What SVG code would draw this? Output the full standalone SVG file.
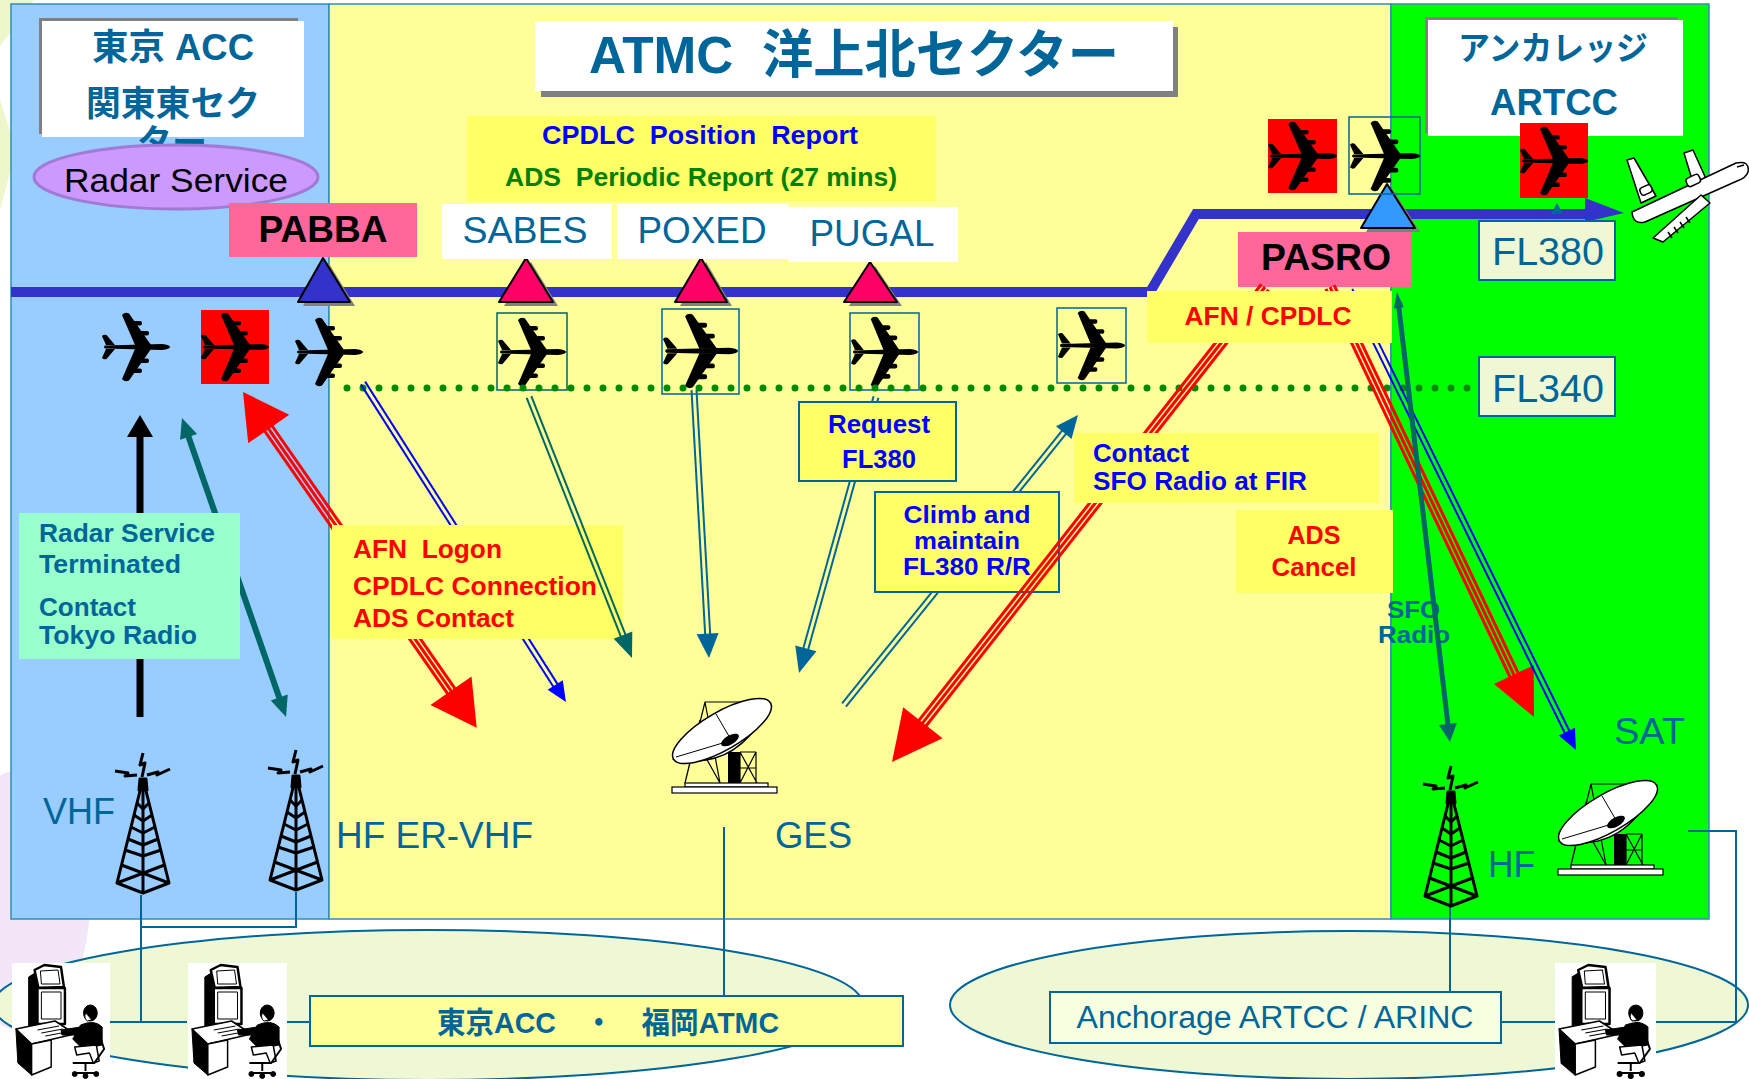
<svg xmlns="http://www.w3.org/2000/svg" width="1749" height="1079" viewBox="0 0 1749 1079">
<style>
  text { font-family: "Liberation Sans", "Noto Sans CJK JP", sans-serif; }
  .b { font-weight: bold; }
  .c { text-anchor: middle; }
  .pre { white-space: pre; }
  .teal { fill: #006699; }
  .red { fill: #FF0000; }
  .blu { fill: #0000FF; }
  .grn { fill: #008000; }
  .panel { stroke: #2F8FB8; stroke-width: 1.5; }
  .box { fill: #FFFF66; }
  .obox { fill: #FFFF66; stroke: #006699; stroke-width: 2; }
  .link { fill: none; stroke: #006699; stroke-width: 2; }
  .fl { fill: #EEF8D4; stroke: #006699; stroke-width: 2; }
  .wp { fill: #FFFFFF; }
  .pink { fill: #FF6699; }
  .tri { stroke: #000; stroke-width: 2; stroke-linejoin: round; }
  .shadow { fill: #808080; }
  .pbox { fill: none; stroke-width: 1.5; }
  .r3 line { stroke: #FF0000; stroke-width: 3; }
  .d2 line { stroke-width: 2; }
</style>
<defs>
  <!-- jet silhouette, nose pointing right -->
  <symbol id="plane" viewBox="0 0 68 70" preserveAspectRatio="none">
    <g fill="#000">
      <path d="M3,33.5 L60,32 Q68,33 68,35 Q68,37 60,38 L3,36.5 Q1,35 3,33.5 Z"/>
      <path d="M33,33 L20,3 Q23,-0.5 27,1.5 L49,33 Z"/>
      <path d="M33,37 L20,67 Q23,70.5 27,68.5 L49,37 Z"/>
      <rect x="30" y="9" width="10" height="4.5" rx="2"/>
      <rect x="37" y="19" width="10" height="4.5" rx="2"/>
      <rect x="30" y="56.5" width="10" height="4.5" rx="2"/>
      <rect x="37" y="46.5" width="10" height="4.5" rx="2"/>
      <path d="M4,33 L0,24 Q2,22 4.5,23 L13,33 Z"/>
      <path d="M4,37 L0,46 Q2,48 4.5,47 L13,37 Z"/>
    </g>
  </symbol>
  <!-- lattice radio tower -->
  <g id="tower" fill="none" stroke="#000" stroke-width="3" stroke-linejoin="round">
    <path d="M30,1 L27,13 L32,11 L29,25"/>
    <path d="M2,19 L15,21 L12,24 L24,23"/>
    <path d="M34,23 L45,20 L44,23 L57,17"/>
    <path d="M29,31 L4,131 L30,141 L56,131 L31,31"/>
    <path d="M30,31 L30,141"/>
    <path d="M24,51 L30,57 L36,51 M21,63 L30,69 L39,63 M18,75 L30,81 L42,75 M15,87 L30,93 L45,87 M12,98 L30,104 L48,98"/>
    <path d="M4,131 L51.5,113 M56,131 L8.5,113"/>
    <path d="M27,27 L33,27 L34,38 L26,38 Z" fill="#000"/>
  </g>
  <!-- satellite ground station dish -->
  <g id="dish">
    <g fill="none" stroke="#000" stroke-width="1.2">
      <path d="M45,12 L25,93 M45,12 L60,93 M45,12 L100,12 M36,50 L60,93 M40,30 L25,93"/>
      <path d="M80,62 L97,93 M96,62 L80,93 M80,62 L80,93 M96,62 L96,93 M80,62 L96,62 M80,78 L96,78"/>
    </g>
    <rect x="68" y="62" width="12" height="32" fill="#000"/>
    <rect x="25" y="93" width="83" height="4" fill="#fff" stroke="#000" stroke-width="1.2"/>
    <rect x="12" y="97" width="105" height="6" fill="#fff" stroke="#000" stroke-width="1.2"/>
    <path d="M14,69 Q78,82 110,14 Z" fill="#fff" stroke="#000" stroke-width="1.5"/>
    <ellipse cx="62" cy="41" rx="56" ry="19" transform="rotate(-30 62 41)" fill="#fff" stroke="#000" stroke-width="1.5"/>
    <path d="M16,67 L66,52 M56,24 L70,48" stroke="#000" stroke-width="1"/>
    <ellipse cx="70" cy="50" rx="10" ry="4.5" transform="rotate(-30 70 50)" fill="#000"/>
  </g>
  <!-- operator at a console -->
  <symbol id="op" viewBox="0 0 100 116" preserveAspectRatio="none">
    <rect width="100" height="116" fill="#fff"/>
    <g stroke="#000" stroke-linejoin="round">
      <path d="M17,14 L25,9 L25,90 L17,96 Z" fill="#000"/>
      <path d="M23,7 L33,2 L50,4 L53,24 L27,25 Z" fill="#fff" stroke-width="2.5"/>
      <path d="M29,8 L47,7 L49,21 L30,21 Z" fill="#fff" stroke-width="1"/>
      <rect x="26" y="25" width="28" height="36" fill="#fff" stroke-width="2.5"/>
      <rect x="30" y="29" width="20" height="27" fill="#fff" stroke-width="1"/>
      <path d="M4,66 L44,58 L64,71 L20,81 Z" fill="#fff" stroke-width="1.5"/>
      <path d="M26,67 L48,63 M30,70 L52,66 M34,73 L56,69" fill="none" stroke-width="1"/>
      <path d="M4,66 L20,81 L20,112 L6,100 Z" fill="#000"/>
      <path d="M20,81 L40,77 L40,104 L20,112 Z" fill="#fff" stroke-width="1.5"/>
      <path d="M70,62 Q84,56 92,64 L92,82 L72,86 L62,76 Z" fill="#000"/>
      <path d="M70,64 L50,67 L51,72 L72,72 Z" fill="#000"/>
      <ellipse cx="80" cy="50" rx="7" ry="8" fill="#000"/>
      <path d="M75,50 Q73,56 77,58 L81,57" fill="#fff" stroke-width="1"/>
      <path d="M64,84 L86,82 L89,98 L83,100 L79,90 L66,92 Z" fill="#fff" stroke-width="1.5"/>
      <path d="M88,68 L94,86 L84,100 L62,100" fill="none" stroke-width="2"/>
      <path d="M75,100 L75,108 M64,110 L86,110" fill="none" stroke-width="2"/>
      <circle cx="64" cy="111" r="2.5" fill="#000"/>
      <circle cx="75" cy="113" r="2.5" fill="#000"/>
      <circle cx="86" cy="111" r="2.5" fill="#000"/>
    </g>
  </symbol>
</defs>

<!-- faint backdrop shapes at the left edge -->
<g id="backdrop">
  <path d="M0,0 L34,0 L0,46 Z M0,100 L16,150 L0,210 Z" fill="#EEF6CC"/>
  <ellipse cx="20" cy="900" rx="70" ry="130" fill="#F2E6F8"/>
</g>

<!-- airspace panels -->
<g id="panels">
  <rect id="panel-tokyo" x="11" y="4" width="318" height="915" fill="#99CCFF" class="panel"/>
  <rect id="panel-atmc" x="329" y="4" width="1062" height="915" fill="#FFFF99" class="panel"/>
  <rect id="panel-anchorage" x="1391" y="4" width="318" height="915" fill="#00FF00" class="panel"/>
</g>

<!-- ground facilities areas -->
<g id="ground-areas">
  <ellipse cx="428" cy="1005" rx="435" ry="75" fill="#EEF8D4" stroke="#006699" stroke-width="2"/>
  <ellipse cx="1349" cy="1005" rx="399" ry="74" fill="#EEF8D4" stroke="#006699" stroke-width="2"/>
</g>

<!-- ground network wiring -->
<g id="connectors">
  <g id="ground-links" class="link">
    <path d="M141,895 L141,1022 M109,1022 L187,1022"/>
    <path d="M296,892 L296,927 L141,927"/>
    <path d="M285,1022 L310,1022"/>
    <path d="M724,827 L724,996"/>
    <path d="M1450,907 L1450,992"/>
    <path d="M1501,1022 L1555,1022"/>
    <path d="M1688,831 L1736,831 L1736,1022 L1653,1022"/>
  </g>
</g>

<g id="tokyo-fukuoka">
  <rect x="310" y="996" width="593" height="50" fill="#FFFF99" stroke="#006699" stroke-width="2"/>
  <text x="608" y="1033" class="c b teal" font-size="30" textLength="342" lengthAdjust="spacingAndGlyphs">東京ACC　・　福岡ATMC</text>
</g>
<g id="anchorage-arinc">
  <rect x="1050" y="992" width="451" height="51" fill="#F6FFE0" stroke="#006699" stroke-width="2"/>
  <text x="1275" y="1028" class="c teal" font-size="31" textLength="397" lengthAdjust="spacingAndGlyphs">Anchorage ARTCC / ARINC</text>
</g>
<g id="operators">
  <use href="#op" x="12" y="963" width="98" height="116"/>
  <use href="#op" x="188" y="963" width="99" height="116"/>
  <use href="#op" x="1555" y="963" width="101" height="116"/>
</g>

<!-- radio and satellite stations -->
<g id="vhf-station">
  <use href="#tower" x="113" y="752"/>
  <text x="43" y="824" class="teal" font-size="36" textLength="72" lengthAdjust="spacingAndGlyphs">VHF</text>
</g>
<g id="er-vhf-station">
  <use href="#tower" x="266" y="749"/>
  <text x="336" y="848" class="teal" font-size="36" textLength="197" lengthAdjust="spacingAndGlyphs">HF ER-VHF</text>
</g>
<g id="ges-station">
  <use href="#dish" x="660" y="690"/>
  <text x="775" y="848" class="teal" font-size="36" textLength="77" lengthAdjust="spacingAndGlyphs">GES</text>
</g>
<g id="hf-station">
  <use href="#tower" x="1421" y="765"/>
  <text x="1488" y="877" class="teal" font-size="36" textLength="47" lengthAdjust="spacingAndGlyphs">HF</text>
</g>
<g id="sat-station">
  <use href="#dish" x="1546" y="772"/>
  <text x="1614" y="744" class="teal" font-size="36" textLength="71" lengthAdjust="spacingAndGlyphs">SAT</text>
</g>
<g id="sfo-radio-label">
  <text x="1387" y="618" class="b teal" font-size="24" textLength="53" lengthAdjust="spacingAndGlyphs">SFO</text>
  <text x="1378" y="643" class="b teal" font-size="24" textLength="72" lengthAdjust="spacingAndGlyphs">Radio</text>
</g>

<!-- sector titles -->
<g id="title-tokyo">
  <rect x="39" y="18" width="259" height="116" class="shadow"/>
  <rect x="42" y="21" width="262" height="116" fill="#fff"/>
  <text x="173" y="60" class="c b teal" font-size="36" textLength="162" lengthAdjust="spacingAndGlyphs">東京 ACC</text>
  <text x="173" y="116" class="c b teal" font-size="35" textLength="174" lengthAdjust="spacingAndGlyphs">関東東セク</text>
  <text x="172" y="155" class="c b teal" font-size="35">ター</text>
</g>
<g id="radar-service">
  <ellipse cx="176" cy="177" rx="142" ry="32" fill="#CC99FF" stroke="#A27AD6" stroke-width="3"/>
  <text x="176" y="192" class="c" font-size="34" fill="#000" textLength="224" lengthAdjust="spacingAndGlyphs">Radar Service</text>
</g>
<g id="title-atmc">
  <rect x="541" y="27" width="637" height="70" class="shadow"/>
  <rect x="535" y="21" width="638" height="70" fill="#fff"/>
  <text x="854" y="73" class="c b teal pre" font-size="52" textLength="530" lengthAdjust="spacingAndGlyphs">ATMC  洋上北セクター</text>
</g>
<g id="title-anchorage">
  <rect x="1425" y="17" width="253" height="116" class="shadow"/>
  <rect x="1428" y="20" width="255" height="116" fill="#fff"/>
  <text x="1553" y="60" class="c b teal" font-size="33" textLength="190" lengthAdjust="spacingAndGlyphs">アンカレッジ</text>
  <text x="1554" y="115" class="c b teal" font-size="37" textLength="128" lengthAdjust="spacingAndGlyphs">ARTCC</text>
</g>

<!-- planned route -->
<g id="route">
  <polyline points="11,292 1150,292 1196,214 1590,214" fill="none" stroke="#3333CC" stroke-width="10"/>
  <polygon points="1585,198 1624,213 1585,222" fill="#3333CC"/>
  <polygon points="1557,203 1551,214 1563,214" fill="#006699"/>
</g>

<!-- reporting points -->
<g id="wp-pabba">
  <polygon points="328,262 355,306 303,306" class="shadow"/>
  <polygon points="323,258 350,302 298,302" fill="#3333CC" class="tri"/>
  <rect x="229" y="203" width="188" height="54" class="pink"/>
  <text x="323" y="242" class="c b" font-size="36" textLength="129" lengthAdjust="spacingAndGlyphs">PABBA</text>
</g>
<g id="wp-sabes">
  <polygon points="531,262 558,306 504,306" class="shadow"/>
  <polygon points="526,258 553,302 499,302" fill="#FF0066" class="tri"/>
  <rect x="442" y="204" width="170" height="55" class="wp"/>
  <text x="525" y="243" class="c teal" font-size="37" textLength="125" lengthAdjust="spacingAndGlyphs">SABES</text>
</g>
<g id="wp-poxed">
  <polygon points="706,262 732,306 680,306" class="shadow"/>
  <polygon points="701,258 727,302 675,302" fill="#FF0066" class="tri"/>
  <rect x="617" y="204" width="171" height="55" class="wp"/>
  <text x="702" y="243" class="c teal" font-size="37" textLength="129" lengthAdjust="spacingAndGlyphs">POXED</text>
</g>
<g id="wp-pugal">
  <polygon points="875,266 902,306 849,306" class="shadow"/>
  <polygon points="870,262 897,302 844,302" fill="#FF0066" class="tri"/>
  <rect x="788" y="207" width="170" height="55" class="wp"/>
  <text x="872" y="246" class="c teal" font-size="37" textLength="125" lengthAdjust="spacingAndGlyphs">PUGAL</text>
</g>
<g id="wp-pasro">
  <polygon points="1392,188 1420,232 1366,232" class="shadow"/>
  <polygon points="1387,184 1415,228 1361,228" fill="#3399FF" class="tri"/>
  <rect x="1238" y="232" width="174" height="55" class="pink"/>
  <text x="1326" y="270" class="c b" font-size="36" textLength="130" lengthAdjust="spacingAndGlyphs">PASRO</text>
</g>

<!-- aircraft positions -->
<g id="aircraft">
  <use id="ac1" href="#plane" x="102" y="312" width="68" height="70"/>
  <g id="ac2"><rect x="201" y="310" width="68" height="74" fill="#FF0000"/><use href="#plane" x="201" y="312" width="68" height="70"/></g>
  <use id="ac3" href="#plane" x="295" y="317" width="68" height="70"/>
  <g id="ac4"><rect x="497" y="313" width="70" height="77" class="pbox" stroke="#006666"/><use href="#plane" x="498" y="317" width="68" height="70"/></g>
  <g id="ac5"><rect x="662" y="309" width="77" height="85" class="pbox" stroke="#006699"/><use href="#plane" x="663" y="313" width="75" height="76"/></g>
  <g id="ac6"><rect x="850" y="313" width="69" height="77" class="pbox" stroke="#006699"/><use href="#plane" x="851" y="316" width="67" height="72"/></g>
  <g id="ac7"><rect x="1057" y="308" width="69" height="75" class="pbox" stroke="#006699"/><use href="#plane" x="1058" y="310" width="67" height="71"/></g>
  <g id="ac8"><rect x="1268" y="119" width="69" height="74" fill="#FF0000"/><use href="#plane" x="1268" y="121" width="69" height="70"/></g>
  <g id="ac9"><rect x="1349" y="117" width="71" height="77" class="pbox" stroke="#006699"/><use href="#plane" x="1350" y="120" width="70" height="72"/></g>
  <g id="ac10"><rect x="1520" y="123" width="68" height="75" fill="#FF0000"/><use href="#plane" x="1520" y="126" width="68" height="70"/></g>
  <g id="jet" fill="#fff" stroke="#000" stroke-width="1.5" stroke-linejoin="round">
    <path d="M1684,153 L1693,150 L1707,181 L1694,186 Z"/>
    <path d="M1627,160 L1634,158 L1656,196 L1641,203 Z"/>
    <path d="M1632,212 L1736,163 Q1750,160 1748,172 Q1746,178 1737,181 L1645,222 Q1633,225 1632,212 Z"/>
    <path d="M1701,195 L1710,203 L1663,242 L1653,238 Z"/>
    <rect x="1686" y="176" width="14" height="9" rx="3" transform="rotate(-25 1693 180)"/>
    <rect x="1640" y="186" width="12" height="8" rx="3" transform="rotate(-25 1646 190)"/>
    <path d="M1668,232 L1672,238 M1674,227 L1678,233 M1680,222 L1684,228 M1686,217 L1690,223 M1737,167 L1744,165" fill="none"/>
  </g>
</g>

<!-- FL340 level line -->
<line id="fl340-line" x1="347" y1="388" x2="1475" y2="388" stroke="#008A00" stroke-width="7" stroke-linecap="round" stroke-dasharray="0 16"/>

<g id="fl380">
  <rect x="1479" y="221" width="136" height="59" class="fl"/>
  <text x="1548" y="265" class="c teal" font-size="38" textLength="112" lengthAdjust="spacingAndGlyphs">FL380</text>
</g>
<g id="fl340">
  <rect x="1479" y="357" width="136" height="59" class="fl"/>
  <text x="1548" y="402" class="c teal" font-size="38" textLength="112" lengthAdjust="spacingAndGlyphs">FL340</text>
</g>

<g id="position-report">
  <rect x="467" y="116" width="469" height="85" class="box"/>
  <text x="700" y="144" class="c b blu pre" font-size="25" textLength="316" lengthAdjust="spacingAndGlyphs">CPDLC  Position  Report</text>
  <text x="701" y="186" class="c b grn pre" font-size="25" textLength="392" lengthAdjust="spacingAndGlyphs">ADS  Periodic Report (27 mins)</text>
</g>

<!-- message flows -->
<g id="messages">
  <g id="arrow-radar-off" transform="translate(140,717) rotate(-90)">
    <line x1="0" y1="0" x2="282" y2="0" stroke="#000" stroke-width="7"/>
    <polygon points="302,0 280,-13 280,13" fill="#000"/>
  </g>
  <g id="arrow-vhf" transform="translate(182,418) rotate(70.82)" fill="#006666">
    <line x1="18" y1="0" x2="299" y2="0" stroke="#006666" stroke-width="6"/>
    <polygon points="0,0 20,-9 20,9"/>
    <polygon points="316.6,0 296,-9 296,9"/>
  </g>
</g>

<g id="radar-terminated">
  <rect x="19" y="513" width="221" height="146" fill="#99FFCC"/>
  <text x="39" y="542" class="b teal" font-size="26" textLength="176" lengthAdjust="spacingAndGlyphs">Radar Service</text>
  <text x="39" y="573" class="b teal" font-size="26" textLength="142" lengthAdjust="spacingAndGlyphs">Terminated</text>
  <text x="39" y="616" class="b teal" font-size="26" textLength="97" lengthAdjust="spacingAndGlyphs">Contact</text>
  <text x="39" y="644" class="b teal" font-size="26" textLength="158" lengthAdjust="spacingAndGlyphs">Tokyo Radio</text>
</g>

<g id="messages-logon">
  <g id="arrow-logon" class="r3" transform="translate(243,392) rotate(55.15)">
    <line x1="40" y1="-4.5" x2="370" y2="-4.5"/>
    <line x1="40" y1="0" x2="370" y2="0"/>
    <line x1="40" y1="4.5" x2="370" y2="4.5"/>
    <polygon points="0,0 45,-25 45,25" fill="#FF0000"/>
    <polygon points="409,0 364,-25 364,25" fill="#FF0000"/>
  </g>
  <g id="arrow-hf-ervhf" class="d2" transform="translate(363,383) rotate(57.53)" stroke="#0000FF">
    <line x1="0" y1="-2.5" x2="360" y2="-2.5"/>
    <line x1="0" y1="2.5" x2="360" y2="2.5"/>
    <polygon points="378,0 358,-9 358,9" fill="#0000FF" stroke="none"/>
  </g>
</g>

<g id="logon-box">
  <rect x="332" y="525" width="291" height="114" class="box"/>
  <text x="353" y="558" class="b red pre" font-size="26" textLength="149" lengthAdjust="spacingAndGlyphs">AFN  Logon</text>
  <text x="353" y="595" class="b red" font-size="26" textLength="244" lengthAdjust="spacingAndGlyphs">CPDLC Connection</text>
  <text x="353" y="627" class="b red" font-size="26" textLength="161" lengthAdjust="spacingAndGlyphs">ADS Contact</text>
</g>

<g id="messages-reports">
  <g id="arrow-sabes" class="d2" transform="translate(529,397) rotate(68.46)" stroke="#006666">
    <line x1="0" y1="-2.5" x2="258" y2="-2.5"/>
    <line x1="0" y1="2.5" x2="258" y2="2.5"/>
    <polygon points="280.6,0 256,-10 256,10" fill="#006666" stroke="none"/>
  </g>
  <g id="arrow-poxed" class="d2" transform="translate(694,390) rotate(86.8)" stroke="#006699">
    <line x1="0" y1="-2.5" x2="246" y2="-2.5"/>
    <line x1="0" y1="2.5" x2="246" y2="2.5"/>
    <polygon points="268.4,0 244,-11 244,11" fill="#006699" stroke="none"/>
  </g>
  <g id="arrow-request" class="d2" transform="translate(876,397) rotate(105.59)" stroke="#006699">
    <line x1="0" y1="-2.5" x2="263" y2="-2.5"/>
    <line x1="0" y1="2.5" x2="263" y2="2.5"/>
    <polygon points="286.5,0 261,-11 261,11" fill="#006699" stroke="none"/>
  </g>
</g>

<g id="request-box">
  <rect x="799" y="402" width="157" height="79" class="obox"/>
  <text x="879" y="433" class="c b blu" font-size="25" textLength="102" lengthAdjust="spacingAndGlyphs">Request</text>
  <text x="879" y="468" class="c b blu" font-size="25" textLength="74" lengthAdjust="spacingAndGlyphs">FL380</text>
</g>

<g id="arrow-climb" class="d2" transform="translate(844,705) rotate(-51.1)" stroke="#006699">
  <line x1="0" y1="-2.5" x2="352" y2="-2.5"/>
  <line x1="0" y1="2.5" x2="352" y2="2.5"/>
  <polygon points="372.6,0 350,-10 350,10" fill="#006699" stroke="none"/>
</g>

<g id="climb-box">
  <rect x="875" y="492" width="184" height="100" class="obox"/>
  <text x="967" y="523" class="c b blu" font-size="23" textLength="127" lengthAdjust="spacingAndGlyphs">Climb and</text>
  <text x="967" y="549" class="c b blu" font-size="23" textLength="106" lengthAdjust="spacingAndGlyphs">maintain</text>
  <text x="967" y="575" class="c b blu" font-size="23" textLength="128" lengthAdjust="spacingAndGlyphs">FL380 R/R</text>
</g>

<g id="messages-handoff">
  <g id="arrow-contact-sfo" class="r3" transform="translate(1265,287) rotate(128.14)">
    <line x1="0" y1="-4.5" x2="560" y2="-4.5"/>
    <line x1="0" y1="0" x2="560" y2="0"/>
    <line x1="0" y1="4.5" x2="560" y2="4.5"/>
    <polygon points="604,0 554,-25 554,25" fill="#FF0000"/>
  </g>
  <g id="arrow-afn-sat" class="r3" transform="translate(1330,287) rotate(64.62)">
    <line x1="0" y1="-4.5" x2="432" y2="-4.5"/>
    <line x1="0" y1="0" x2="432" y2="0"/>
    <line x1="0" y1="4.5" x2="432" y2="4.5"/>
    <polygon points="476,0 429,-22 429,22" fill="#FF0000"/>
  </g>
  <g id="arrow-ads-sat" class="d2" transform="translate(1350,290) rotate(63.84)" stroke="#0000FF">
    <line x1="0" y1="-2.5" x2="494" y2="-2.5"/>
    <line x1="0" y1="2.5" x2="494" y2="2.5"/>
    <polygon points="512.5,0 492,-9 492,9" fill="#0000FF" stroke="none"/>
  </g>
</g>

<g id="contact-box">
  <rect x="1074" y="433" width="305" height="70" class="box"/>
  <text x="1093" y="462" class="b blu" font-size="25" textLength="96" lengthAdjust="spacingAndGlyphs">Contact</text>
  <text x="1093" y="490" class="b blu" font-size="25" textLength="214" lengthAdjust="spacingAndGlyphs">SFO Radio at FIR</text>
</g>
<g id="ads-cancel-box">
  <rect x="1236" y="510" width="157" height="83" class="box"/>
  <text x="1314" y="544" class="c b red" font-size="26" textLength="53" lengthAdjust="spacingAndGlyphs">ADS</text>
  <text x="1314" y="576" class="c b red" font-size="26" textLength="85" lengthAdjust="spacingAndGlyphs">Cancel</text>
</g>
<g id="afn-cpdlc-box">
  <rect x="1147" y="291" width="245" height="52" class="box"/>
  <text x="1268" y="325" class="c b red" font-size="25" textLength="167" lengthAdjust="spacingAndGlyphs">AFN / CPDLC</text>
</g>

<g id="arrow-sfo-hf" transform="translate(1397,292) rotate(83.28)" fill="#006666">
  <line x1="14" y1="0" x2="436" y2="0" stroke="#006666" stroke-width="5"/>
  <polygon points="0,0 16,-5 16,5"/>
  <polygon points="453,0 435,-9 435,9"/>
</g>
</svg>
